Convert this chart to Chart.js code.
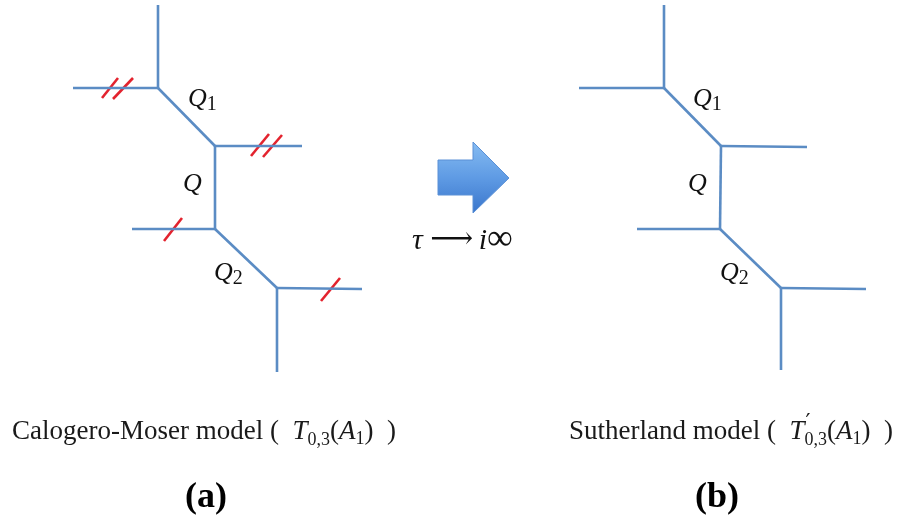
<!DOCTYPE html>
<html>
<head>
<meta charset="utf-8">
<script src="https://cdn.jsdelivr.net/npm/chart.js@4/dist/chart.umd.min.js"></script>
<style>
html,body{margin:0;padding:0;background:#fff;}
#wrap{width:898px;height:517px;position:relative;}
</style>
</head>
<body>
<div id="wrap"><canvas id="c"></canvas></div>
<script>
// ---- Diagram data (graph coordinates) ----
// Left web diagram (a): edges as [x1,y1,x2,y2]
const leftEdges = [
  [158,5,158,88],
  [73,88,158,88],
  [158,88,215,146],
  [215,146,302,146],
  [215,146,215,229],
  [132,229,215,229],
  [215,229,277,288],
  [277,288,362,289],
  [277,288,277,372]
];
// Right web diagram (b)
const rightEdges = [
  [664,5,664,88],
  [579,88,664,88],
  [664,88,721,146],
  [721,146,807,147],
  [721,146,720,229],
  [637,229,720,229],
  [720,229,781,288],
  [781,288,866,289],
  [781,288,781,370]
];
// Red tick marks on the left diagram
const tickMarks = [
  [102,98,118,78],
  [113,99,133,78],
  [251,156,269,134],
  [263,157,282,135],
  [164,241,182,218],
  [321,301,340,278]
];
// Block arrow outline
const arrowX = [438,473,473,509,473,473,438,438];
const arrowY = [160,160,142,178,213,195,195,160];

// Text annotations
const serif = '"Liberation Serif", "DejaVu Serif", serif';
const mathSym = '"DejaVu Serif", serif';
const qLabels = [
  {x:188, y:106, runs:[['Q','italic 26px '+serif,0],['1','20px '+serif,4]]},
  {x:183, y:191, runs:[['Q','italic 26px '+serif,0]]},
  {x:214, y:280, runs:[['Q','italic 26px '+serif,0],['2','20px '+serif,4]]},
  {x:693, y:106, runs:[['Q','italic 26px '+serif,0],['1','20px '+serif,4]]},
  {x:688, y:191, runs:[['Q','italic 26px '+serif,0]]},
  {x:720, y:280, runs:[['Q','italic 26px '+serif,0],['2','20px '+serif,4]]}
];
const limitText = {x:412, y:249, runs:[
  ['τ','italic 30px '+serif,0],[' ','30px '+serif,0],['⟶','30px '+mathSym,-1],[' ','22px '+serif,0],
  ['i','italic 30px '+serif,0],['∞','36px '+serif,0]
]};
const captionA = {x:12, y:439, runs:[
  ['Calogero-Moser model (  ','27px '+serif,0],
  ['T','italic 27px '+serif,0],
  ['0,3','18px '+serif,6],
  ['(','27px '+serif,0],['A','italic 27px '+serif,0],['1','18px '+serif,5],
  [')',' 27px '+serif,0],['  )','27px '+serif,0]
]};
const captionB = {x:569, y:439, runs:[
  ['Sutherland model (  ','27px '+serif,0],
  ['T','italic 27px '+serif,0],
  ['′','22px '+mathSym,-10,false],
  ['0,3','18px '+serif,6],
  ['(','27px '+serif,0],['A','italic 27px '+serif,0],['1','18px '+serif,5],
  [')','27px '+serif,0],['  )','27px '+serif,0]
]};
const panelLabels = [
  {x:206, y:507, text:'(a)'},
  {x:717, y:507, text:'(b)'}
];

function edgeDatasets(edges, color, width){
  return edges.map(e => ({
    data:[{x:e[0],y:e[1]},{x:e[2],y:e[3]}],
    showLine:true, borderColor:color, borderWidth:width, pointRadius:0,
    fill:false, tension:0, borderCapStyle:'butt'
  }));
}

const datasets = [
  ...edgeDatasets(leftEdges,'#5b8cc4',2.6),
  ...edgeDatasets(rightEdges,'#5b8cc4',2.6),
  ...edgeDatasets(tickMarks,'#e3232e',2.6),
  {
    data: arrowX.map((x,i)=>({x:x,y:arrowY[i]})),
    showLine:true, pointRadius:0, tension:0,
    borderColor:'#5a90d6', borderWidth:1,
    fill:'shape',
    backgroundColor:function(context){
      const chart = context.chart;
      const {ctx, chartArea, scales} = chart;
      if(!chartArea) return '#5b9be0';
      const y0 = scales.y.getPixelForValue(Math.min(...arrowY));
      const y1 = scales.y.getPixelForValue(Math.max(...arrowY));
      const g = ctx.createLinearGradient(0,y0,0,y1);
      g.addColorStop(0,'#86bcf2');
      g.addColorStop(0.5,'#5f9be4');
      g.addColorStop(1,'#3a76cc');
      return g;
    }
  }
];

function drawRuns(ctx, sx, sy, x, y, runs){
  let px = sx.getPixelForValue(x);
  const py = sy.getPixelForValue(y);
  ctx.textBaseline = 'alphabetic';
  ctx.textAlign = 'left';
  for(const r of runs){
    ctx.font = r[1];
    if(r[3] === false){
      ctx.fillText(r[0], px + 1, py + r[2]);
    } else {
      ctx.fillText(r[0], px, py + r[2]);
      px += ctx.measureText(r[0]).width;
    }
  }
}

const textPlugin = {
  id:'texts',
  afterDatasetsDraw(chart){
    const ctx = chart.ctx, sx = chart.scales.x, sy = chart.scales.y;
    ctx.save();
    ctx.fillStyle = '#111';
    qLabels.forEach(l => drawRuns(ctx,sx,sy,l.x,l.y,l.runs));
    drawRuns(ctx,sx,sy,limitText.x,limitText.y,limitText.runs);
    ctx.fillStyle = '#1a1a1a';
    drawRuns(ctx,sx,sy,captionA.x,captionA.y,captionA.runs);
    drawRuns(ctx,sx,sy,captionB.x,captionB.y,captionB.runs);
    ctx.fillStyle = '#000';
    ctx.font = 'bold 36px '+serif;
    ctx.textAlign = 'center';
    panelLabels.forEach(p => ctx.fillText(p.text, sx.getPixelForValue(p.x), sy.getPixelForValue(p.y)));
    ctx.restore();
  }
};

new Chart(document.getElementById('c'), {
  type:'scatter',
  data:{datasets},
  options:{
    responsive:true, maintainAspectRatio:false, animation:false, events:[],
    layout:{padding:0},
    plugins:{legend:{display:false}, tooltip:{enabled:false}},
    scales:{
      x:{type:'linear', min:0, max:898, display:false},
      y:{type:'linear', min:0, max:517, reverse:true, display:false}
    }
  },
  plugins:[textPlugin]
});
</script>
</body>
</html>
